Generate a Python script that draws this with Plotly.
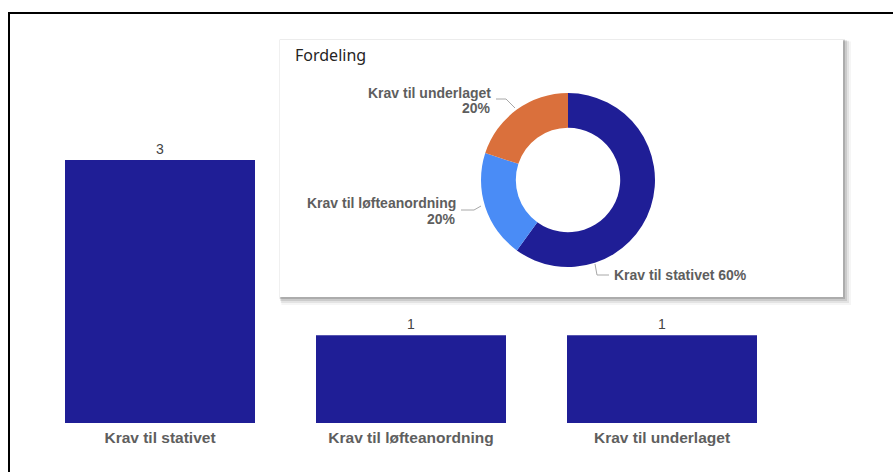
import plotly.graph_objects as go

W, H = 893, 472

# data
categories = ["Krav til stativet", "Krav til løfteanordning", "Krav til underlaget"]
counts = [3, 1, 1]
pie_labels = ["Krav til stativet", "Krav til løfteanordning", "Krav til underlaget"]
pie_values = [3, 1, 1]
pie_colors = ["#1F1E96", "#4A8CF6", "#DA703C"]
BAR_COLOR = "#1F1E96"
TEXT_GRAY = "#5E5E5E"


def px(x):
    return x / W


def py(y):
    return 1 - y / H


fig = go.Figure()

fig.add_trace(go.Bar(
    x=categories,
    y=counts,
    marker=dict(color=BAR_COLOR, line=dict(width=0)),
    text=counts,
    textposition="outside",
    textfont=dict(family="Liberation Sans", size=14, color="#444444"),
    cliponaxis=False,
    width=0.757,
    showlegend=False,
))

fig.add_trace(go.Pie(
    labels=pie_labels,
    values=pie_values,
    hole=0.6,
    sort=False,
    direction="clockwise",
    rotation=0,
    marker=dict(colors=pie_colors, line=dict(width=0)),
    textinfo="none",
    domain=dict(x=[px(481), px(655)], y=[py(267), py(93)]),
    showlegend=False,
))

# card with soft shadow behind the donut
card = (280, 40, 843, 297)
shapes = []
for off, op in [(8, 0.04), (6, 0.07), (4, 0.10), (2, 0.15)]:
    shapes.append(dict(
        type="rect", xref="paper", yref="paper", layer="below",
        x0=px(card[0] - 1 + off * 0.3), x1=px(card[2] + off),
        y0=py(card[3] + off), y1=py(card[1] - 1 + off * 0.3),
        fillcolor=f"rgba(0,0,0,{op})", line=dict(width=0),
    ))
shapes.append(dict(
    type="rect", xref="paper", yref="paper", layer="below",
    x0=px(card[0]), x1=px(card[2]), y0=py(card[3]), y1=py(card[1]),
    fillcolor="white", line=dict(width=0),
))

# leader lines for donut labels
leader = dict(color="#A8A8A8", width=1)
for pts in [
    [(496, 99), (506, 99), (515, 108)],
    [(461, 210), (474, 210), (481, 206)],
    [(595, 264), (597, 275), (609, 275)],
]:
    path = "M " + " L ".join(f"{px(a)},{py(b)}" for a, b in pts)
    shapes.append(dict(type="path", xref="paper", yref="paper", path=path,
                       line=leader, layer="above"))

# outer frame (top + left edges visible)
shapes.append(dict(
    type="rect", xref="paper", yref="paper", layer="above",
    x0=px(9), x1=px(1000), y0=py(600), y1=py(13),
    line=dict(color="black", width=2), fillcolor="rgba(0,0,0,0)",
))

label_font = dict(family="Liberation Sans", size=14, color=TEXT_GRAY, weight="bold")
annotations = [
    dict(text="Fordeling", x=px(293), y=py(55), xanchor="left", yanchor="middle",
         font=dict(family="Noto Sans", size=16, color="#252423")),
    dict(text="Krav til underlaget", x=px(493), y=py(93), xanchor="right", font=label_font),
    dict(text="20%", x=px(493), y=py(108), xanchor="right", font=label_font),
    dict(text="Krav til løfteanordning", x=px(458), y=py(203), xanchor="right", font=label_font),
    dict(text="20%", x=px(458), y=py(219), xanchor="right", font=label_font),
    dict(text="Krav til stativet 60%", x=px(612), y=py(275), xanchor="left", font=label_font),
]
for a in annotations:
    a.update(xref="paper", yref="paper", showarrow=False, yanchor="middle")

y_top = 3.3
bar_bottom, bar_top3 = 423, 160
dom_top = bar_bottom - (bar_bottom - bar_top3) * y_top / 3

fig.update_layout(
    width=W,
    height=H,
    margin=dict(l=0, r=0, t=0, b=0),
    paper_bgcolor="white",
    plot_bgcolor="rgba(0,0,0,0)",
    bargap=0.243,
    shapes=shapes,
    annotations=annotations,
    xaxis=dict(
        domain=[px(34.5), px(787.5)],
        showgrid=False, zeroline=False, showline=False, ticks="",
        ticklabelstandoff=3,
        tickfont=dict(family="Liberation Sans", size=15.5, color=TEXT_GRAY, weight="bold"),
        fixedrange=True,
    ),
    yaxis=dict(
        domain=[py(bar_bottom), py(dom_top)],
        range=[0, y_top],
        visible=False,
        fixedrange=True,
    ),
)

fig.write_html(
    "out.html",
    config={"displayModeBar": False},
    post_script="document.body.style.margin='0px';",
)
